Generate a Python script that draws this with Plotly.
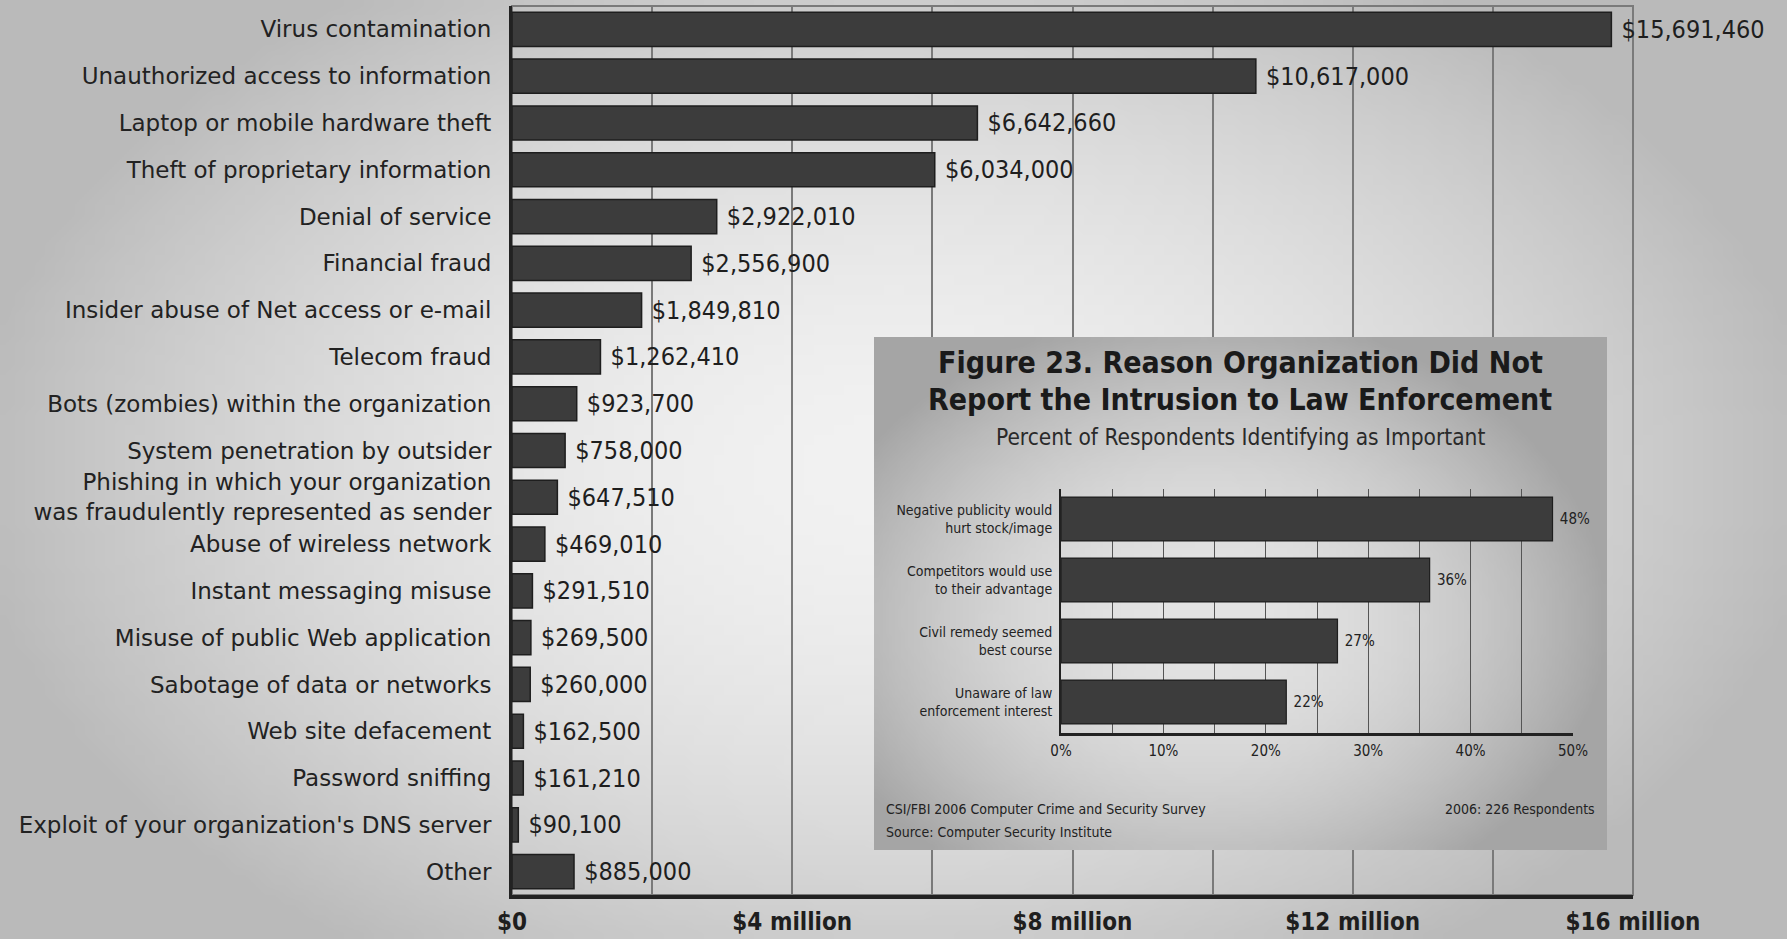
import zlib, struct, base64
import numpy as np
import plotly.graph_objects as go

# ---------------- data ----------------
categories = [
    "Virus contamination",
    "Unauthorized access to information",
    "Laptop or mobile hardware theft",
    "Theft of proprietary information",
    "Denial of service",
    "Financial fraud",
    "Insider abuse of Net access or e-mail",
    "Telecom fraud",
    "Bots (zombies) within the organization",
    "System penetration by outsider",
    "Phishing in which your organization<br>was fraudulently represented as sender",
    "Abuse of wireless network",
    "Instant messaging misuse",
    "Misuse of public Web application",
    "Sabotage of data or networks",
    "Web site defacement",
    "Password sniffing",
    "Exploit of your organization's DNS server",
    "Other",
]
losses = [15691460, 10617000, 6642660, 6034000, 2922010, 2556900, 1849810,
          1262410, 923700, 758000, 647510, 469010, 291510, 269500, 260000,
          162500, 161210, 90100, 885000]

x_tickvals = [0, 2e6, 4e6, 6e6, 8e6, 10e6, 12e6, 14e6, 16e6]
x_ticktext = ["$0", "", "$4 million", "", "$8 million", "", "$12 million", "", "$16 million"]

inset_categories = [
    "Negative publicity would<br>hurt stock/image",
    "Competitors would use<br>to their advantage",
    "Civil remedy seemed<br>best course",
    "Unaware of law<br>enforcement interest",
]
inset_pct = [48, 36, 27, 22]
inset_tickvals = [0, 10, 20, 30, 40, 50]
inset_ticktext = ["0%", "10%", "20%", "30%", "40%", "50%"]

inset_title1 = "Figure 23. Reason Organization Did Not"
inset_title2 = "Report the Intrusion to Law Enforcement"
inset_subtitle = "Percent of Respondents Identifying as Important"
footer_left1 = "CSI/FBI 2006 Computer Crime and Security Survey"
footer_left2 = "Source: Computer Security Institute"
footer_right = "2006: 226 Respondents"

# ---------------- background gradients (decoration) ----------------
def png_gray(arr):
    h, w = arr.shape
    raw = b"".join(b"\x00" + arr[i].tobytes() for i in range(h))
    def chunk(t, d):
        c = struct.pack(">I", len(d)) + t + d
        return c + struct.pack(">I", zlib.crc32(t + d) & 0xffffffff)
    data = (b"\x89PNG\r\n\x1a\n"
            + chunk(b"IHDR", struct.pack(">IIBBBBB", w, h, 8, 0, 0, 0, 0))
            + chunk(b"IDAT", zlib.compress(raw, 9))
            + chunk(b"IEND", b""))
    return "data:image/png;base64," + base64.b64encode(data).decode()

def radial(w, h, cx, cy, rx, ry, base, k, p, lo, hi):
    yy, xx = np.mgrid[0:h, 0:w]
    u = (xx + 0.5) / w
    v = (yy + 0.5) / h
    d = np.sqrt(((u - cx) / rx) ** 2 + ((v - cy) / ry) ** 2)
    val = np.clip(base - k * d ** p, lo, hi)
    return val.astype(np.uint8)

page_bg = png_gray(radial(179, 94, 0.5, 0.5, 0.5, 0.6, 242, 52, 1.8, 186, 245))
inset_bg = png_gray(radial(120, 84, 0.45, 0.55, 0.55, 0.6, 228, 62, 2.0, 165, 232))

COND = "DejaVu Sans Condensed, Liberation Sans Narrow, Arial Narrow, sans-serif"
WIDE = "DejaVu Sans, Verdana, sans-serif"

fig = go.Figure()

# main bars
fig.add_trace(go.Bar(
    x=losses, y=categories, orientation="h",
    marker=dict(color="#3c3c3c", line=dict(color="#1e1e1e", width=1.5)),
    width=0.73,
    text=["\u00a0$" + f"{v:,}" for v in losses],
    textposition="outside", cliponaxis=False,
    textfont=dict(family=COND, size=25, color="#1e1e1e"),
    xaxis="x", yaxis="y", showlegend=False, hoverinfo="skip",
))

# invisible trace to create the inset box subplot (x2/y2)
fig.add_trace(go.Scatter(x=[None], y=[None], xaxis="x2", yaxis="y2",
                         showlegend=False, hoverinfo="skip"))

# inset bars
fig.add_trace(go.Bar(
    x=inset_pct, y=inset_categories, orientation="h",
    marker=dict(color="#3c3c3c", line=dict(color="#1e1e1e", width=1.2)),
    width=0.72,
    text=["\u00a0" + f"{v}%" for v in inset_pct],
    textposition="outside", cliponaxis=False,
    textfont=dict(family=COND, size=15, color="#222222"),
    xaxis="x3", yaxis="y3", showlegend=False, hoverinfo="skip",
))

fig.update_layout(
    width=1787, height=939,
    margin=dict(l=0, r=0, t=0, b=0, autoexpand=False),
    paper_bgcolor="#d6d6d6",
    plot_bgcolor="rgba(0,0,0,0)",
    xaxis=dict(
        domain=[512 / 1787, 1633 / 1787], range=[0, 16e6],
        tickvals=x_tickvals, ticktext=x_ticktext,
        showgrid=True, gridcolor="#7a7a7a", gridwidth=1.5,
        showline=True, linecolor="#222222", linewidth=4,
        zeroline=False, ticks="", ticklabelstandoff=2, automargin=False,
        tickfont=dict(family=COND, size=24, color="#1e1e1e", weight=600),
        anchor="y", fixedrange=True,
    ),
    yaxis=dict(
        domain=[1 - 895 / 939, 1 - 6 / 939],
        range=[18.5, -0.5], type="category",
        showgrid=False, showline=True, linecolor="#222222", linewidth=3,
        zeroline=False, ticks="", ticklabelstandoff=13, automargin=False,
        tickfont=dict(family=WIDE, size=23, color="#222222"),
        anchor="x", fixedrange=True,
    ),
    xaxis2=dict(domain=[874 / 1787, 1607 / 1787], range=[0, 1], visible=False,
                anchor="y2", fixedrange=True, automargin=False),
    yaxis2=dict(domain=[1 - 850 / 939, 1 - 337 / 939], range=[0, 1], visible=False,
                anchor="x2", fixedrange=True, automargin=False),
    xaxis3=dict(
        domain=[1061 / 1787, 1573 / 1787], range=[0, 50],
        tickvals=inset_tickvals, ticktext=inset_ticktext,
        showgrid=True, gridcolor="#555555", gridwidth=1,
        minor=dict(dtick=5, showgrid=True, gridcolor="#555555", gridwidth=1),
        showline=True, linecolor="#222222", linewidth=3,
        zeroline=False, ticks="", ticklabelstandoff=2, automargin=False,
        tickfont=dict(family=COND, size=15, color="#222222"),
        anchor="y3", fixedrange=True,
    ),
    yaxis3=dict(
        domain=[1 - 732.5 / 939, 1 - 488.5 / 939],
        range=[3.5, -0.5], type="category",
        showgrid=False, showline=True, linecolor="#222222", linewidth=2,
        zeroline=False, ticks="", ticklabelstandoff=4, automargin=False,
        tickfont=dict(family=COND, size=14, color="#222222"),
        anchor="x3", fixedrange=True,
    ),
    images=[
        dict(source=page_bg, xref="paper", yref="paper", x=0, y=1, sizex=1, sizey=1,
             xanchor="left", yanchor="top", sizing="stretch", layer="below"),
        dict(source=inset_bg, xref="x2", yref="y2", x=0, y=1, sizex=1, sizey=1,
             xanchor="left", yanchor="top", sizing="stretch", layer="below"),
    ],
    shapes=[
        dict(type="rect", xref="x domain", yref="y domain", x0=0, x1=1, y0=0, y1=1,
             line=dict(color="#7a7a7a", width=2), layer="below"),
        dict(type="rect", xref="x2", yref="y2", x0=0, x1=1, y0=0, y1=1,
             line=dict(color="#666666", width=2), layer="below"),
        dict(type="rect", xref="x3 domain", yref="y3 domain", x0=0, x1=1, y0=0, y1=1,
             line=dict(color="#666666", width=1.5), layer="below"),
    ],
    annotations=[
        dict(text="<b>" + inset_title1 + "</b>", xref="paper", yref="paper",
             x=1240 / 1787, y=1 - 362 / 939, showarrow=False,
             xanchor="center", yanchor="middle",
             font=dict(family=COND, size=30, color="#1a1a1a")),
        dict(text="<b>" + inset_title2 + "</b>", xref="paper", yref="paper",
             x=1240 / 1787, y=1 - 399 / 939, showarrow=False,
             xanchor="center", yanchor="middle",
             font=dict(family=COND, size=30, color="#1a1a1a")),
        dict(text=inset_subtitle, xref="paper", yref="paper",
             x=1240 / 1787, y=1 - 437 / 939, showarrow=False,
             xanchor="center", yanchor="middle",
             font=dict(family=COND, size=22.5, color="#2a2a2a")),
        dict(text=footer_left1, xref="paper", yref="paper",
             x=884 / 1787, y=1 - 809 / 939, showarrow=False,
             xanchor="left", yanchor="middle",
             font=dict(family=COND, size=14, color="#222222")),
        dict(text=footer_left2, xref="paper", yref="paper",
             x=884 / 1787, y=1 - 832 / 939, showarrow=False,
             xanchor="left", yanchor="middle",
             font=dict(family=COND, size=14, color="#222222")),
        dict(text=footer_right, xref="paper", yref="paper",
             x=1597 / 1787, y=1 - 809 / 939, showarrow=False,
             xanchor="right", yanchor="middle",
             font=dict(family=COND, size=14, color="#222222")),
    ],
)

fig.write_html("out.html")
